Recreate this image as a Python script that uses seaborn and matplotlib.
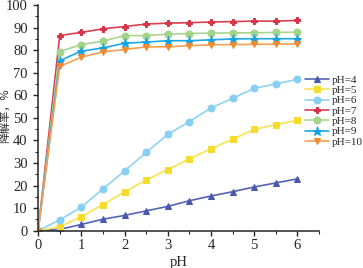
import matplotlib
matplotlib.use("Agg")
import matplotlib.pyplot as plt
import seaborn as sns
import pandas as pd
from matplotlib.ticker import MultipleLocator

# x values (axis label in the source is "pH")
x = [0, 0.5, 1, 1.5, 2, 2.5, 3, 3.5, 4, 4.5, 5, 5.5, 6]

ph4 = [0, 0.6, 2.8, 5.1, 6.8, 8.8, 10.8, 13.3, 15.4, 17.3, 19.4, 21.2, 23.0]
ph5 = [0, 1.8, 6.2, 11.6, 17.2, 22.5, 27.1, 31.9, 36.3, 40.6, 44.9, 47.0, 49.0]
ph6 = [0, 4.8, 10.5, 18.5, 26.5, 34.7, 42.7, 48.4, 54.4, 58.7, 63.1, 65.1, 67.1]
ph7 = [0, 86.5, 87.9, 89.5, 90.5, 91.6, 92.0, 92.2, 92.5, 92.7, 92.9, 92.9, 93.2]
ph8 = [0, 79.4, 82.5, 84.0, 86.5, 86.5, 87.1, 87.4, 87.6, 87.7, 87.7, 87.9, 88.0]
ph9 = [0, 75.4, 79.6, 81.0, 83.1, 83.6, 84.2, 84.2, 84.6, 85.0, 85.1, 85.1, 85.1]
ph10 = [0, 72.9, 76.9, 79.3, 80.3, 81.5, 81.5, 82.0, 82.4, 82.5, 82.6, 82.7, 82.8]

labels = ["pH=4", "pH=5", "pH=6", "pH=7", "pH=8", "pH=9", "pH=10"]
series = [ph4, ph5, ph6, ph7, ph8, ph9, ph10]
colors = ["#5563b3", "#f7e34f", "#8fd3f2", "#d9404f", "#a9d58f", "#1fa9e6", "#f5a055"]
marker_colors = ["#4a58ad", "#f5dc2c", "#86cff0", "#d63548", "#a3d389", "#16a3e3", "#f08a2c"]
markers = ["^", "s", "o", "P", "o", "*", "v"]

rows = []
for lab, vals in zip(labels, series):
    for xi, yi in zip(x, vals):
        rows.append({"x": xi, "y": yi, "series": lab})
df = pd.DataFrame(rows)

sns.set_style("ticks")
plt.rcParams["font.family"] = ["Liberation Serif", "Noto Sans CJK SC"]
plt.rcParams["axes.unicode_minus"] = False

fig = plt.figure(figsize=(3.63, 2.68), dpi=100)
ax = fig.add_axes([0.105, 0.139, 0.774, 0.842])

for lab, c, mc, m in zip(labels, colors, marker_colors, markers):
    sub = df[df["series"] == lab]
    sns.lineplot(data=sub, x="x", y="y", ax=ax, color=c, marker=m,
                 markersize=5 if m != "*" else 6.5, markerfacecolor=mc,
                 markeredgecolor=mc, linewidth=1.2, label=lab)

ax.set_xlim(0, 6.5)
ax.set_ylim(0, 100)
ax.xaxis.set_major_locator(MultipleLocator(1))
ax.xaxis.set_minor_locator(MultipleLocator(0.5))
ax.yaxis.set_major_locator(MultipleLocator(10))
ax.yaxis.set_minor_locator(MultipleLocator(5))
ax.set_xticks([0, 1, 2, 3, 4, 5, 6])
ax.tick_params(axis="both", which="major", labelsize=10.5, length=3.5, width=1,
               direction="out", pad=2.5)
ax.tick_params(axis="y", which="major", pad=4)
ax.tick_params(axis="both", which="minor", length=2, width=0.8)
for s in ["top", "right"]:
    ax.spines[s].set_visible(False)
for s in ["left", "bottom"]:
    ax.spines[s].set_linewidth(1.1)

ax.set_xlabel("pH", fontsize=10.5, labelpad=3)
ax.set_ylabel("降解率，%", fontsize=8, family=["Noto Sans CJK SC"])
ax.yaxis.set_label_coords(-0.1, 0.51)

leg = ax.legend(loc="upper left", bbox_to_anchor=(0.95, 0.69), frameon=False,
                fontsize=8, handlelength=2.2, handletextpad=0.2,
                labelspacing=0.05, borderaxespad=0, borderpad=0)

fig.savefig("out.png", dpi=100)
